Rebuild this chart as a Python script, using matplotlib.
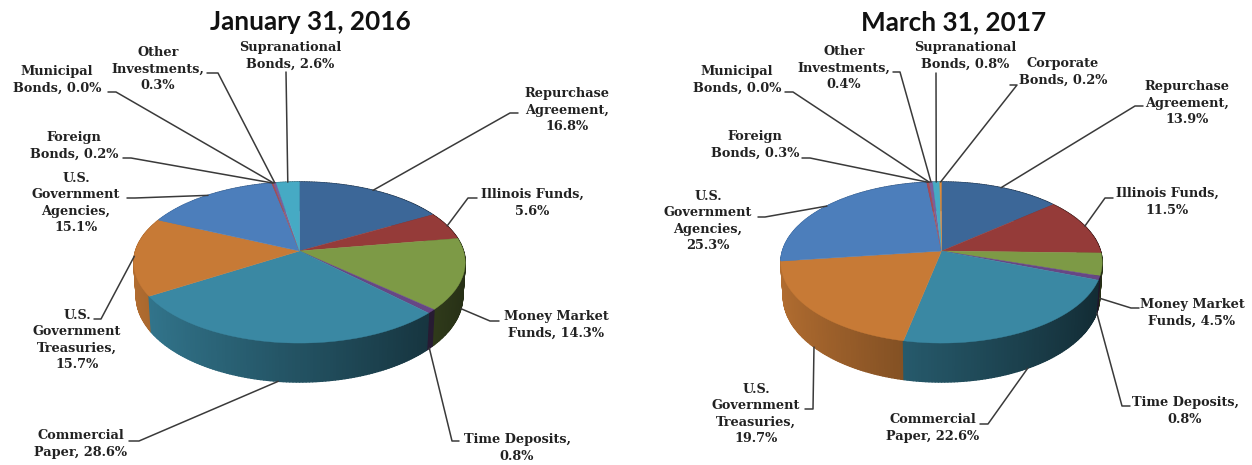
import numpy as np
import matplotlib
matplotlib.use("Agg")
import matplotlib.pyplot as plt
from matplotlib.collections import PolyCollection
from matplotlib.colors import to_rgb
from matplotlib.path import Path
from matplotlib.transforms import Affine2D, Transform

# ---------- data ----------
titles = ["January 31, 2016", "March 31, 2017"]
categories = ["Repurchase\nAgreement", "Illinois Funds", "Money Market\nFunds", "Time Deposits",
              "Commercial\nPaper", "U.S.\nGovernment\nTreasuries", "U.S.\nGovernment\nAgencies",
              "Foreign\nBonds", "Municipal\nBonds", "Other\nInvestments", "Supranational\nBonds",
              "Corporate\nBonds"]
value_breaks = [",\n", ",\n", ", ", ",\n", ", ", ",\n", ",\n", ", ", ", ", ",\n", ", ", ", "]
values_2016 = [16.8, 5.6, 14.3, 0.8, 28.6, 15.7, 15.1, 0.2, 0.0, 0.3, 2.6]
values_2017 = [13.9, 11.5, 4.5, 0.8, 22.6, 19.7, 25.3, 0.3, 0.0, 0.4, 0.8, 0.2]
colors = ["#3C6798", "#953B39", "#7D9A46", "#664785", "#3A88A3", "#C77A36",
          "#4C7EBB", "#AA4A55", "#7D9A46", "#7B5E9E", "#46AAC4", "#E08C3C"]

# ---------- layout (pixels) ----------
W, H = 1252, 465
CY, SY, K = 251.0, 78.9, 1 / 7
DEPTH, DEPTH_SCALE, BASE_SHRINK = 33.0, 1.065, 0.985
TITLE_X = [310, 954]
CENTRES = [(299.5, 164.0), (941.5, 159.0)]
# text centre x, text centre y, elbow start, elbow end
LABELS_2016 = [
    (567, 110, (510, 113), (518, 113)),
    (532, 203, (468, 198), (477, 198)),
    (556, 325, (490, 321), (499, 321)),
    (517, 448, (452, 441), (459, 441)),
    (81, 444, (139, 441), (129, 441)),
    (77, 340, (101, 319), (94, 319)),
    (76, 203, (135, 198), (127, 198)),
    (74, 146, (131, 158), (123, 158)),
    (57, 80, (116, 92), (108, 92)),
    (158, 69, (218, 73), (207, 73)),
    (290, 56, (286, 72), (286, 72)),
]
LABELS_2017 = [
    (1187, 103, (1135, 106), (1143, 106)),
    (1167, 202, (1105, 198), (1113, 198)),
    (1192, 313, (1131, 308), (1139, 308)),
    (1185, 411, (1122, 406), (1130, 406)),
    (933, 428, (988, 424), (980, 424)),
    (756, 414, (813, 409), (805, 409)),
    (708, 221, (765, 217), (758, 217)),
    (755, 145, (810, 158), (802, 158)),
    (737, 80, (793, 92), (785, 92)),
    (844, 68, (900, 72), (893, 72)),
    (965, 56, (936, 73), (936, 73)),
    (1063, 72, (1017, 85), (1010, 85)),
]

LABEL_FONT = dict(family="DejaVu Serif", fontweight="bold", fontsize=9.3, color="#222222",
                  ha="center", va="center", linespacing=1.36)
LINE = dict(color="#3a3a3a", lw=1.1, solid_capstyle="round", solid_joinstyle="round", zorder=5)


class PieProjection(Transform):
    """Perspective view of the unit-circle pie, in pixel coordinates."""
    input_dims = output_dims = 2

    def __init__(self, cx, rx):
        super().__init__()
        self.cx, self.rx = cx, rx

    def transform_non_affine(self, v):
        v = np.asarray(v, float)
        w = 1 + K * v[:, 1]
        return np.column_stack([self.cx + self.rx * v[:, 0] / w, CY - SY * v[:, 1] / w])

    def transform_path_non_affine(self, path):
        polys = path.to_polygons(Affine2D().scale(400))
        if not polys:
            return Path(self.transform_non_affine(path.vertices))
        return Path(self.transform_non_affine(polys[0] / 400), closed=True)


def unit(theta_deg):
    t = np.radians(theta_deg)
    return np.column_stack([np.sin(t), np.cos(t)])


fig = plt.figure(figsize=(W / 100, H / 100), dpi=100, facecolor="white")
ax = fig.add_axes([0, 0, 1, 1])


def base(proj, p):
    return np.column_stack([proj.cx + BASE_SHRINK * (p[:, 0] - proj.cx),
                            CY + DEPTH_SCALE * (p[:, 1] - CY) + DEPTH])


def draw(values, layout, centre, title, title_x):
    proj = PieProjection(*centre)
    wedges, _ = ax.pie(values, colors=colors[:len(values)], startangle=90, counterclock=False,
                       wedgeprops=dict(linewidth=0.3, zorder=3))
    for w in wedges:
        w.set_edgecolor(w.get_facecolor())
        w.set_transform(proj + ax.transData)

    edges = np.cumsum([0] + list(values)) / sum(values) * 360
    polys, faces = [], []
    for i in range(len(values)):
        if values[i] <= 0:
            continue
        n = max(2, int(np.ceil(edges[i + 1] - edges[i])) + 1)
        th = np.linspace(edges[i], edges[i + 1], n)
        top = proj.transform_non_affine(unit(th))
        bot = base(proj, top)
        for j in range(n - 1):
            polys.append(np.vstack([top[j], top[j + 1], bot[j + 1], bot[j]]))
            mid = np.sin(np.radians(0.5 * (th[j] + th[j + 1])))
            faces.append((np.cos(np.radians(0.5 * (th[j] + th[j + 1]))),
                          np.clip(np.array(to_rgb(colors[i])) * (0.6 - 0.3 * mid), 0, 1)))
    order = np.argsort([-f[0] for f in faces])
    ax.add_collection(PolyCollection([polys[o] for o in order],
                                     facecolors=[faces[o][1] for o in order],
                                     edgecolors=[faces[o][1] for o in order],
                                     linewidths=1.0, zorder=2))

    mids = 0.5 * (edges[:-1] + edges[1:])
    for i, (val, (tx, ty, e1, e2)) in enumerate(zip(values, layout)):
        anchor = proj.transform_non_affine(unit(mids[i]))
        if np.cos(np.radians(mids[i])) < -0.12:
            anchor = base(proj, anchor)
        ax.plot([anchor[0, 0], e1[0], e2[0]], [anchor[0, 1], e1[1], e2[1]], **LINE)
        ax.text(tx, ty, f"{categories[i]}{value_breaks[i]}{val:.1f}%", **LABEL_FONT, zorder=6)
    ax.text(title_x, 22, title, family="Lato", fontweight="bold", fontsize=18.8, color="#111111",
            ha="center", va="center")


draw(values_2016, LABELS_2016, CENTRES[0], titles[0], TITLE_X[0])
draw(values_2017, LABELS_2017, CENTRES[1], titles[1], TITLE_X[1])

ax.set_aspect("auto")
ax.set_xlim(0, W)
ax.set_ylim(H, 0)
ax.set_axis_off()
fig.savefig("out.png", dpi=100, facecolor="white")
